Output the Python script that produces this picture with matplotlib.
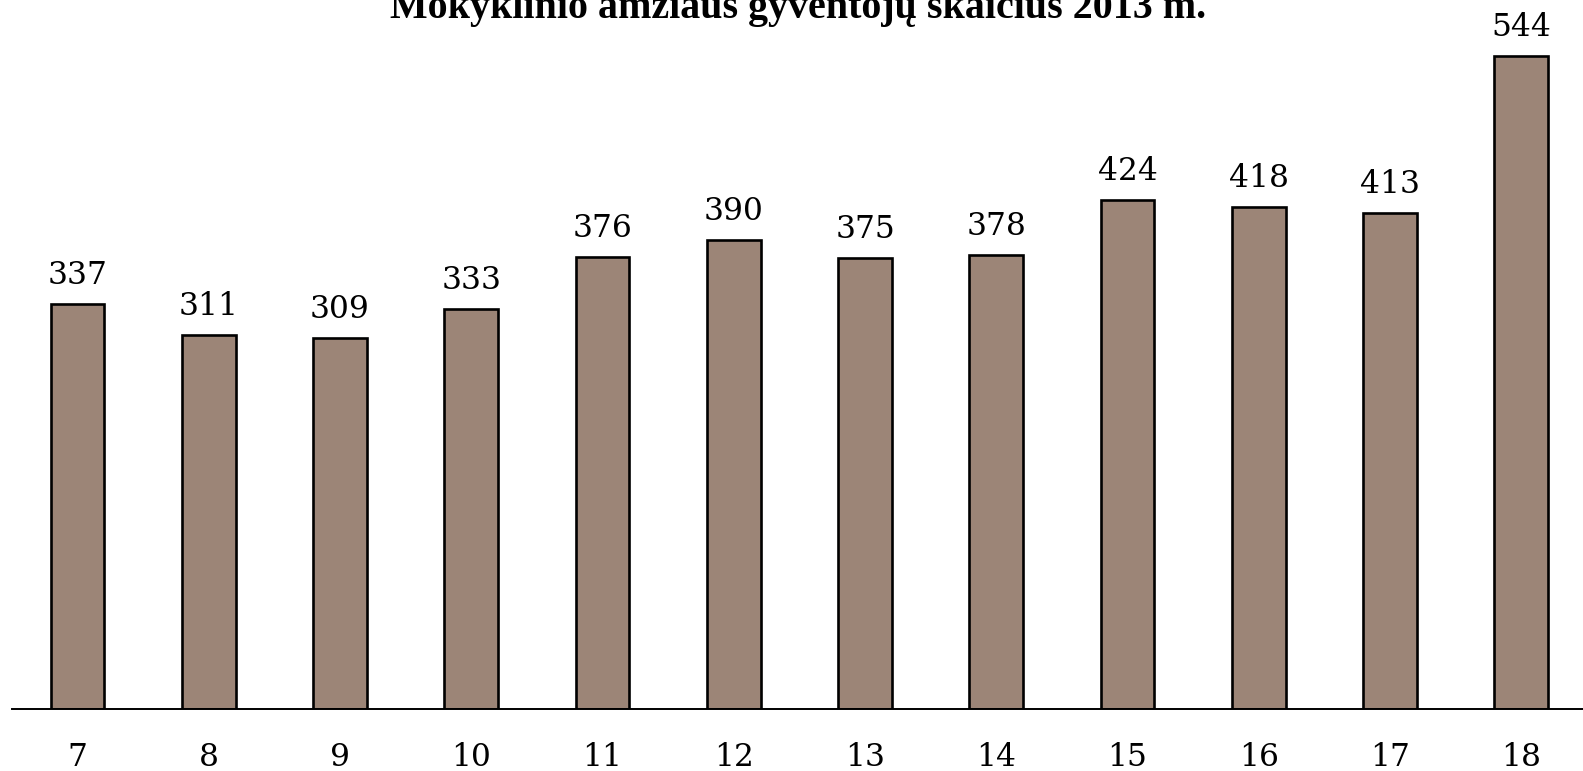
import matplotlib.pyplot as plt

# data
ages = ['7', '8', '9', '10', '11', '12', '13', '14', '15', '16', '17', '18']
counts = [337, 311, 309, 333, 376, 390, 375, 378, 424, 418, 413, 544]
title = 'Mokyklinio amžiaus gyventojų skaičius 2013 m.'

W, H = 1583, 771
fig = plt.figure(figsize=(W / 100, H / 100), dpi=100)

# axes placed in pixels: baseline at y=708.5, 1.2 px per unit, x slot 131.25 px
x0, x1 = 11.9, 11.9 + 12 * 131.25
y0 = H - 708.5
ax = fig.add_axes([x0 / W, y0 / H, (x1 - x0) / W, 720 / H])
ax.set_xlim(-0.5, 11.5)
ax.set_ylim(0, 600)

xs = range(len(ages))
ax.bar(xs, counts, width=0.41, color='#9c8577', edgecolor='black', linewidth=1.9)

for x, v in zip(xs, counts):
    ax.annotate(str(v), (x, v), xytext=(0, 14.5), textcoords='offset points',
                ha='center', va='baseline', fontsize=22.5, family='DejaVu Serif')

ax.set_xticks(list(xs))
ax.set_xticklabels(ages, fontsize=22.5, family='DejaVu Serif')
ax.tick_params(axis='x', length=0, pad=24)
ax.set_yticks([])
for s in ['left', 'right', 'top']:
    ax.spines[s].set_visible(False)
ax.spines['bottom'].set_linewidth(1.4)

fig.text(798 / W, 1 - 18 / H, title, ha='center', va='baseline',
         fontsize=28.8, fontweight='bold', family='Liberation Serif')

fig.savefig('out.png', dpi=100)
